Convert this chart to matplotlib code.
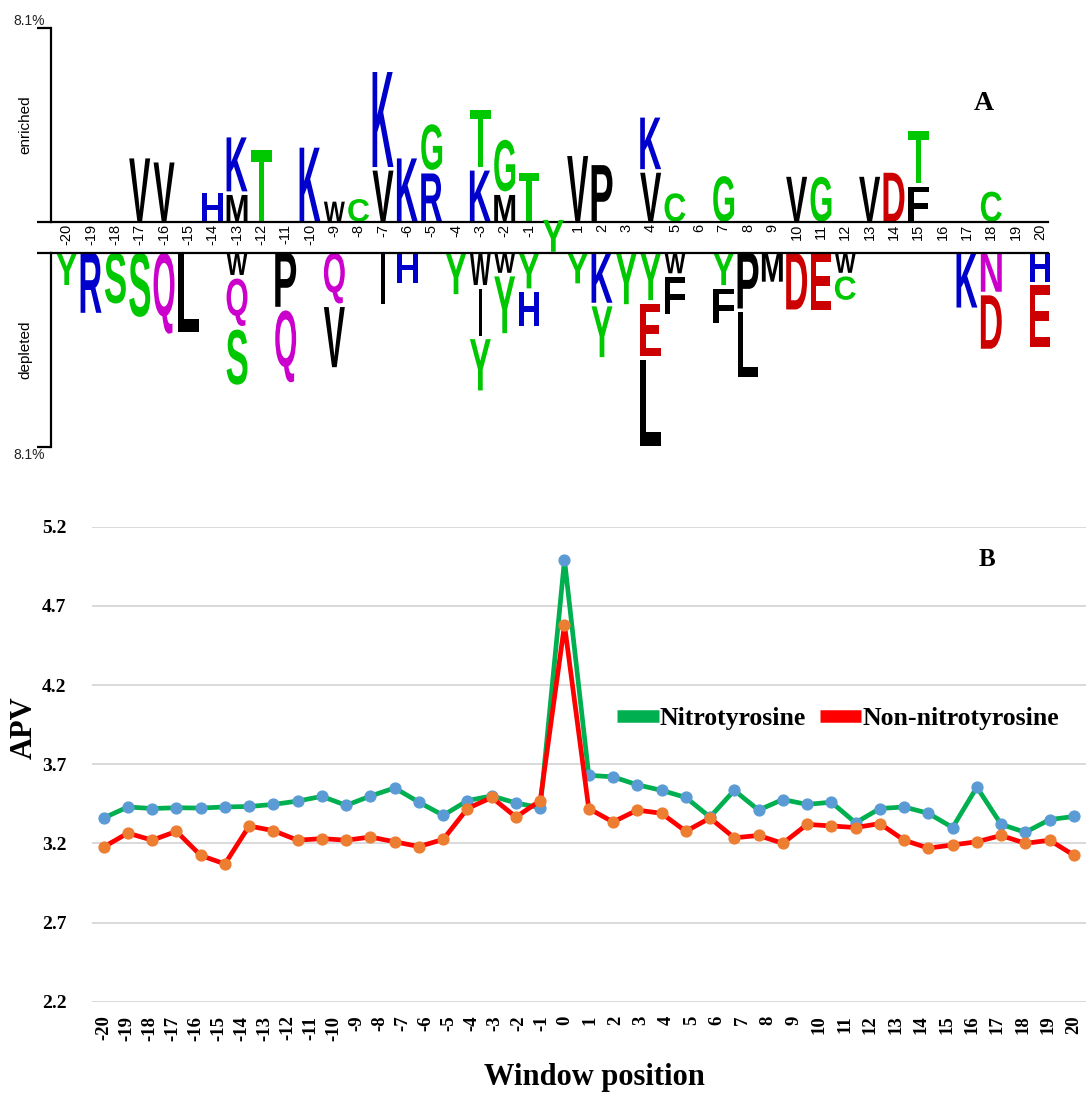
import matplotlib
matplotlib.use("Agg")
import matplotlib.pyplot as plt
from matplotlib.textpath import TextPath
from matplotlib.patches import PathPatch
from matplotlib.font_manager import FontProperties
from matplotlib.transforms import Affine2D
from matplotlib.lines import Line2D

# ---------------- Panel A: two-sample logo (heights in %) ----------------
ENR_POS = [-17, -16, -14, -13, -12, -10, -9, -8, -7, -6, -5, -3, -2, -1,
           1, 2, 4, 5, 7, 10, 11, 13, 14, 15, 18]
ENR_RES = ["V", "V", "H", "MK", "T", "K", "W", "C", "VK", "K", "RG", "KT", "MG", "T",
           "V", "P", "VK", "C", "G", "V", "G", "V", "D", "FT", "C"]
ENR_HGT = [[2.65], [2.48], [1.19], [1.12, 2.26], [3.00], [3.10], [0.84], [0.95],
           [2.14, 3.98], [2.65], [2.02, 1.91], [2.14, 2.40], [1.12, 2.16], [2.05],
           [2.75], [2.37], [2.05, 2.16], [1.19], [1.91], [1.88], [1.88], [1.88],
           [2.05], [1.47, 2.16], [1.26]]

DEP_POS = [-20, -19, -18, -17, -16, -15, -13, -11, -9, -7, -6, -4, -3, -2, -1,
           1, 2, 3, 4, 5, 7, 8, 9, 10, 11, 12, 17, 18, 20]
DEP_RES = ["Y", "R", "S", "S", "Q", "L", "WQS", "PQ", "QV", "I", "H", "Y", "WIY", "WY", "YH",
           "Y", "KY", "Y", "YEL", "WF", "YF", "PL", "M", "D", "E", "WC", "K", "ND", "HE"]
DEP_HGT = [[1.35], [2.51], [2.12], [2.68], [3.38], [3.31], [0.93, 1.98, 2.30],
           [2.26, 3.00], [2.12, 2.51], [2.15], [1.28], [1.73], [1.35, 1.96, 2.14],
           [0.84, 2.37], [1.49, 1.44], [1.28], [2.09, 2.12], [2.15],
           [1.98, 2.19, 3.58], [0.86, 1.54], [1.35, 1.45], [2.33, 2.72], [1.21],
           [2.37], [2.40], [0.84, 0.98], [2.29], [1.63, 2.23], [1.21, 2.58]]

LOGO_MAX = 8.1
POSITIONS = list(range(-20, 21))

RES_COLORS = {}
for r in "KRH":
    RES_COLORS[r] = "#0000cc"
for r in "DE":
    RES_COLORS[r] = "#cc0000"
for r in "STYGC":
    RES_COLORS[r] = "#00c800"
for r in "QN":
    RES_COLORS[r] = "#cc00cc"
for r in "AVLIPWFM":
    RES_COLORS[r] = "black"

# ---------------- Panel B: APV per window position ----------------
WINDOW = [str(p) for p in POSITIONS]
NITRO = [3.36, 3.43, 3.42, 3.425, 3.423, 3.43, 3.433, 3.446, 3.467, 3.497,
         3.44, 3.499, 3.55, 3.46, 3.377, 3.47, 3.50, 3.455, 3.425, 4.99,
         3.63, 3.62, 3.57, 3.535, 3.49, 3.366, 3.535, 3.41, 3.477, 3.446,
         3.46, 3.33, 3.42, 3.43, 3.39, 3.30, 3.555, 3.32, 3.27, 3.35, 3.37]
NON_NITRO = [3.177, 3.265, 3.22, 3.276, 3.124, 3.07, 3.31, 3.28, 3.22, 3.23,
             3.22, 3.24, 3.21, 3.18, 3.225, 3.42, 3.49, 3.366, 3.47, 4.58,
             3.42, 3.335, 3.41, 3.39, 3.276, 3.36, 3.235, 3.25, 3.20, 3.32,
             3.31, 3.30, 3.325, 3.22, 3.17, 3.19, 3.21, 3.25, 3.20, 3.22, 3.125]
Y_TICKS = [2.2, 2.7, 3.2, 3.7, 4.2, 4.7, 5.2]
PEAK_IDX = 19  # the source puts the "0" label under the peak point

W, H = 1088, 1095
fig = plt.figure(figsize=(W / 100, H / 100), dpi=100)
fig.patch.set_facecolor("white")

LETTER_FONT = FontProperties(family="Liberation Sans", weight="bold")
SERIF = "Liberation Serif"
GAP = 0.15
LETTER_W = 0.86


def px_axes(left, top, right, bottom):
    return fig.add_axes([left / W, 1 - bottom / H, (right - left) / W, (bottom - top) / H])


def draw_letter(ax, ch, x, y0, h, color):
    tp = TextPath((0, 0), ch, size=1, prop=LETTER_FONT)
    bb = tp.get_extents()
    w = LETTER_W * (0.16 if ch == "I" else 1.0)
    tr = (Affine2D().translate(-bb.x0, -bb.y0)
          .scale(w / bb.width, h / bb.height)
          .translate(x - w / 2, y0))
    patch = PathPatch(tr.transform_path(tp), fc=color, ec="none", lw=0)
    patch.set_clip_on(False)
    ax.add_patch(patch)


XL = (-20.658, 20.33)
ax_enr = px_axes(50.7, 28.3, 1048, 221.7)
ax_dep = px_axes(50.7, 252.7, 1048, 446.7)
for ax, ylim in ((ax_enr, (0, LOGO_MAX)), (ax_dep, (-LOGO_MAX, 0))):
    ax.set_xlim(*XL)
    ax.set_ylim(*ylim)
    ax.set_facecolor("none")
    for s in ("top", "right"):
        ax.spines[s].set_visible(False)
    ax.spines["left"].set_linewidth(1.6)
    ax.spines["bottom" if ylim[0] == 0 else "top"].set_linewidth(1.6)
    ax.set_xticks([])
    ax.set_yticks(list(ylim))
    ax.set_yticklabels([])
    ax.tick_params(axis="y", length=10, width=1.6)
ax_dep.spines["top"].set_visible(True)
ax_dep.spines["bottom"].set_visible(False)

for pos, res, hgt in zip(ENR_POS, ENR_RES, ENR_HGT):
    y = 0
    for ch, h in zip(res, hgt):
        draw_letter(ax_enr, ch, pos, y, h, RES_COLORS[ch])
        y += h + GAP

for pos, res, hgt in zip(DEP_POS, DEP_RES, DEP_HGT):
    y = 0
    for ch, h in zip(res, hgt):
        draw_letter(ax_dep, ch, pos, y - h, h, RES_COLORS[ch])
        y -= h + GAP

# central tyrosine across the label row
draw_letter(ax_dep, "Y", 0, 0.04, 1.33, RES_COLORS["Y"])

for p in POSITIONS:
    if p == 0:
        continue
    ax_enr.text(p, -0.1, str(p), rotation=90, ha="center", va="top",
                fontsize=10.5, family="Liberation Sans", clip_on=False)

fig.text(45 / W, 1 - 21 / H, "8.1%", ha="right", va="center", fontsize=10,
         family="Liberation Sans", color="#222222")
fig.text(45 / W, 1 - 455 / H, "8.1%", ha="right", va="center", fontsize=10,
         family="Liberation Sans", color="#222222")
fig.text(25 / W, 1 - 125 / H, "enriched", rotation=90, ha="center", va="center",
         fontsize=11, family="Liberation Sans")
fig.text(25 / W, 1 - 350 / H, "depleted", rotation=90, ha="center", va="center",
         fontsize=11, family="Liberation Sans")
fig.text(984 / W, 1 - 103 / H, "A", ha="center", va="center", fontsize=20,
         family=SERIF, weight="bold")

# ---------------- Panel B ----------------
ax = px_axes(91.5, 526.7, 1086, 1001.7)
x = list(range(len(NITRO)))
ax.plot(x, NITRO, color="#00b050", lw=3.4, marker="o", ms=7.8,
        mfc="#5b9bd5", mec="#5b9bd5", zorder=3)
ax.plot(x, NON_NITRO, color="#ff0000", lw=3.4, marker="o", ms=7.8,
        mfc="#ed7d31", mec="#ed7d31", zorder=4)
ax.set_xlim(-0.5, len(NITRO) - 0.5)
ax.set_ylim(Y_TICKS[0], Y_TICKS[-1])
ax.set_yticks(Y_TICKS)
ax.set_yticklabels([f"{v:.1f}" for v in Y_TICKS], fontsize=14, family=SERIF,
                   weight="bold")

# tick labels spread from the first point to the peak, then to the last point
n_left = POSITIONS.index(0)
n_right = len(POSITIONS) - 1 - n_left
last = len(NITRO) - 1
tick_x = [i * PEAK_IDX / n_left if i <= n_left
          else PEAK_IDX + (i - n_left) * (last - PEAK_IDX) / n_right
          for i in range(len(POSITIONS))]
ax.set_xticks(tick_x)
ax.set_xticklabels(WINDOW, rotation=90, fontsize=13.5, family=SERIF, weight="bold")
ax.tick_params(length=0)
ax.tick_params(axis="y", pad=18)
ax.tick_params(axis="x", pad=10)
ax.grid(axis="y", color="#d9d9d9", lw=1.4)
ax.grid(axis="x", visible=False)
ax.set_axisbelow(True)
for s in ax.spines.values():
    s.set_visible(False)

handles = [Line2D([], [], color="#00b050", lw=9, solid_capstyle="butt"),
           Line2D([], [], color="#ff0000", lw=9, solid_capstyle="butt")]
ax.legend(handles, ["Nitrotyrosine", "Non-nitrotyrosine"], ncol=2, loc="center",
          bbox_to_anchor=(0.751, 0.597), frameon=False, handlelength=1.6,
          handletextpad=0.05, columnspacing=0.55,
          prop=FontProperties(family=SERIF, weight="bold", size=18.5))

fig.text(987 / W, 1 - 560 / H, "B", ha="center", va="center", fontsize=18,
         family=SERIF, weight="bold")
fig.text(24 / W, 1 - 728 / H, "APV", rotation=90, ha="center", va="center",
         fontsize=22, family=SERIF, weight="bold")
fig.text(594 / W, 1 - 1078 / H, "Window position", ha="center", va="center",
         fontsize=22, family=SERIF, weight="bold")

fig.savefig("out.png", dpi=100, facecolor="white")
